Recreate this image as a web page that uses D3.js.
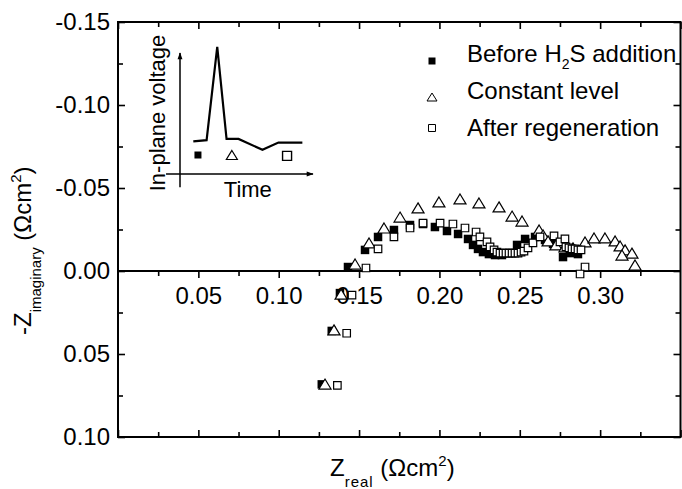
<!DOCTYPE html>
<html>
<head>
<meta charset="utf-8">
<script src="https://cdn.jsdelivr.net/npm/d3@7"></script>
<style>
  body { margin: 0; background: #fff; }
  svg { display: block; font-family: "Liberation Sans", Arial, sans-serif; }
</style>
</head>
<body>
<div id="chart"></div>
<script>
// Z_real values (Ohm cm2) and -Z_imag values as labelled on the y axis
const beforeX = [0.1268, 0.1330, 0.1381, 0.1431, 0.1537, 0.1618, 0.1717, 0.1817, 0.1898, 0.1972,
  0.2047, 0.2116, 0.2178, 0.2209, 0.2240, 0.2271, 0.2308, 0.2346, 0.2389, 0.2433,
  0.2483, 0.2533, 0.2595, 0.2657, 0.2707, 0.2769, 0.2812, 0.2862];
const beforeY = [0.0683, 0.0361, 0.0133, -0.0024, -0.0127, -0.0205, -0.0247, -0.0277, -0.0283, -0.0265,
  -0.0241, -0.0223, -0.0193, -0.0157, -0.0133, -0.0114, -0.0102, -0.0096, -0.0096, -0.0108,
  -0.0157, -0.0193, -0.0205, -0.0187, -0.0163, -0.0084, -0.0108, -0.0102];

const constantX = [0.1288, 0.1344, 0.1388, 0.1475, 0.1562, 0.1655, 0.1755, 0.1867, 0.1997, 0.2128,
  0.2246, 0.2371, 0.2452, 0.2514, 0.2620, 0.2645, 0.2676, 0.2725, 0.2781, 0.2831,
  0.2906, 0.2962, 0.3030, 0.3093, 0.3124, 0.3155, 0.3198, 0.3136, 0.3217];
const constantY = [0.0681, 0.0355, 0.0139, -0.0042, -0.0169, -0.0259, -0.0325, -0.0380, -0.0416, -0.0434,
  -0.0410, -0.0386, -0.0331, -0.0301, -0.0247, -0.0217, -0.0181, -0.0157, -0.0145, -0.0139,
  -0.0175, -0.0199, -0.0199, -0.0181, -0.0151, -0.0127, -0.0108, -0.0096, -0.0036];

const afterX = [0.1365, 0.1423, 0.1456, 0.1543, 0.1618, 0.1717, 0.1817, 0.1898, 0.2004, 0.2084,
  0.2159, 0.2228, 0.2252, 0.2296, 0.2315, 0.2340, 0.2358, 0.2377, 0.2396, 0.2414,
  0.2433, 0.2452, 0.2470, 0.2489, 0.2508, 0.2526, 0.2551, 0.2582, 0.2626, 0.2713,
  0.2750, 0.2781, 0.2787, 0.2806, 0.2825, 0.2844, 0.2862, 0.2881, 0.2906, 0.2875];
const afterY = [0.0689, 0.0375, 0.0145, -0.0018, -0.0133, -0.0205, -0.0259, -0.0289, -0.0289, -0.0283,
  -0.0259, -0.0235, -0.0205, -0.0175, -0.0145, -0.0127, -0.0114, -0.0108, -0.0108, -0.0108,
  -0.0108, -0.0108, -0.0108, -0.0108, -0.0114, -0.0120, -0.0139, -0.0169, -0.0205, -0.0211,
  -0.0175, -0.0193, -0.0145, -0.0139, -0.0133, -0.0133, -0.0127, -0.0127, -0.0024, 0.0018];

const legendLabels = ["Before H2S addition", "Constant level", "After regeneration"];

const xMajor = [0.05, 0.10, 0.15, 0.20, 0.25, 0.30];
const xLabels = ["0.05", "0.10", "0.15", "0.20", "0.25", "0.30"];
const xAllTicks = [0, 0.025, 0.05, 0.075, 0.10, 0.125, 0.15, 0.175, 0.20, 0.225, 0.25, 0.275, 0.30, 0.325, 0.35];
const yMajor = [-0.15, -0.10, -0.05, 0.00, 0.05, 0.10];
const yLabels = ["-0.15", "-0.10", "-0.05", "0.00", "0.05", "0.10"];
const yMinor = [-0.125, -0.075, -0.025, 0.025, 0.075];

// inset sketch (arbitrary units)
const insetT = [10, 20, 28, 35, 44, 62, 74, 92];
const insetV = [27, 28, 105, 29, 29, 20, 26, 26];
const insetMarkT = [13.5, 39, 80.5];
const insetMarkV = [15.7, 15.7, 15];

const W = 682, H = 489;
const svg = d3.select("#chart").append("svg").attr("width", W).attr("height", H);

const x = d3.scaleLinear().domain([0, 0.35]).range([118, 680.5]);
const y = d3.scaleLinear().domain([-0.15, 0.10]).range([22, 437]);

const fontMain = 24;

// triangle path centred on its bounding box
function tri(w, h) {
  return `M0,${-h / 2}L${w / 2},${h / 2}L${-w / 2},${h / 2}Z`;
}
function sq(s) {
  return `M${-s / 2},${-s / 2}h${s}v${s}h${-s}Z`;
}

// frame
svg.append("rect")
  .attr("x", x(0)).attr("y", y(-0.15))
  .attr("width", x(0.35) - x(0)).attr("height", y(0.10) - y(-0.15))
  .attr("fill", "none").attr("stroke", "#000").attr("stroke-width", 2);

function tickStyle(g) {
  g.select(".domain").remove();
  g.selectAll(".tick line").attr("stroke", "#000").attr("stroke-width", 1.6);
  g.selectAll(".tick text").attr("fill", "#000").style("font-size", fontMain + "px")
    .style("font-family", '"Liberation Sans", Arial, sans-serif');
}

const isMajorX = d => xMajor.some(m => Math.abs(m - d) < 1e-9) || d === 0 || Math.abs(d - 0.35) < 1e-9;

// top frame ticks (pointing in)
svg.append("g").attr("transform", `translate(0,${y(-0.15)})`)
  .call(d3.axisBottom(x).tickValues(xAllTicks.filter(isMajorX)).tickSize(7).tickFormat(""))
  .call(tickStyle);
svg.append("g").attr("transform", `translate(0,${y(-0.15)})`)
  .call(d3.axisBottom(x).tickValues(xAllTicks.filter(d => !isMajorX(d))).tickSize(5).tickFormat(""))
  .call(tickStyle);
// bottom frame ticks
svg.append("g").attr("transform", `translate(0,${y(0.10)})`)
  .call(d3.axisTop(x).tickValues(xAllTicks.filter(isMajorX)).tickSize(7).tickFormat(""))
  .call(tickStyle);
svg.append("g").attr("transform", `translate(0,${y(0.10)})`)
  .call(d3.axisTop(x).tickValues(xAllTicks.filter(d => !isMajorX(d))).tickSize(5).tickFormat(""))
  .call(tickStyle);

// left axis: inward ticks + labels
svg.append("g").attr("transform", `translate(${x(0)},0)`)
  .call(d3.axisRight(y).tickValues(yMajor).tickSize(7).tickFormat(""))
  .call(tickStyle);
svg.append("g").attr("transform", `translate(${x(0)},0)`)
  .call(d3.axisRight(y).tickValues(yMinor).tickSize(5).tickFormat(""))
  .call(tickStyle);
svg.append("g").attr("transform", `translate(${x(0)},0)`)
  .call(d3.axisLeft(y).tickValues(yMajor).tickSize(0).tickPadding(8).tickFormat((d, i) => yLabels[i]))
  .call(tickStyle);
// right axis ticks
svg.append("g").attr("transform", `translate(${x(0.35)},0)`)
  .call(d3.axisLeft(y).tickValues(yMajor).tickSize(7).tickFormat(""))
  .call(tickStyle);
svg.append("g").attr("transform", `translate(${x(0.35)},0)`)
  .call(d3.axisLeft(y).tickValues(yMinor).tickSize(5).tickFormat(""))
  .call(tickStyle);

// x axis through zero
svg.append("line")
  .attr("x1", x(0)).attr("x2", x(0.35)).attr("y1", y(0)).attr("y2", y(0))
  .attr("stroke", "#000").attr("stroke-width", 2);
svg.append("g").attr("transform", `translate(0,${y(0)})`)
  .call(d3.axisBottom(x).tickValues(xMajor).tickSize(7).tickPadding(9).tickFormat((d, i) => xLabels[i]))
  .call(tickStyle);
svg.append("g").attr("transform", `translate(0,${y(0)})`)
  .call(d3.axisBottom(x).tickValues(xAllTicks.filter(d => !isMajorX(d))).tickSize(5).tickFormat(""))
  .call(tickStyle);

// data
const before = beforeX.map((v, i) => ({ x: v, y: beforeY[i] }));
const constant = constantX.map((v, i) => ({ x: v, y: constantY[i] }));
const after = afterX.map((v, i) => ({ x: v, y: afterY[i] }));

svg.append("g").selectAll("path").data(before).enter().append("path")
  .attr("d", sq(8.5))
  .attr("transform", d => `translate(${x(d.x)},${y(d.y)})`)
  .attr("fill", "#000");

svg.append("g").selectAll("path").data(constant).enter().append("path")
  .attr("d", tri(12, 10))
  .attr("transform", d => `translate(${x(d.x)},${y(d.y)})`)
  .attr("fill", "#fff").attr("stroke", "#000").attr("stroke-width", 1.2);

svg.append("g").selectAll("path").data(after).enter().append("path")
  .attr("d", sq(7.5))
  .attr("transform", d => `translate(${x(d.x)},${y(d.y)})`)
  .attr("fill", "#fff").attr("stroke", "#000").attr("stroke-width", 1.2);

// legend
const legend = svg.append("g");
const legendRows = [62, 99, 136];
const legendMark = [
  g => g.append("path").attr("d", sq(7)).attr("fill", "#000"),
  g => g.append("path").attr("d", tri(10, 8)).attr("fill", "none").attr("stroke", "#000").attr("stroke-width", 1),
  g => g.append("path").attr("d", sq(7)).attr("fill", "none").attr("stroke", "#000").attr("stroke-width", 1)
];
legendLabels.forEach((lab, i) => {
  const g = legend.append("g").attr("transform", `translate(432,${legendRows[i] - [1, 2, 8][i]})`);
  legendMark[i](g);
  const t = legend.append("text").attr("x", 467).attr("y", legendRows[i])
    .style("font-size", fontMain + "px").attr("fill", "#000");
  if (lab.includes("H2S")) {
    t.append("tspan").text("Before H");
    t.append("tspan").attr("dy", 7).style("font-size", "14px").text("2");
    t.append("tspan").attr("dy", -7).text("S addition");
  } else {
    t.text(lab);
  }
});

// axis titles
const yt = svg.append("text")
  .attr("transform", `translate(31,335) rotate(-90)`)
  .style("font-size", "24px").attr("fill", "#000");
yt.append("tspan").text("-Z");
yt.append("tspan").attr("dy", 10).style("font-size", "15px").text("imaginary");
yt.append("tspan").attr("dy", -10).text(" (\u03A9cm");
yt.append("tspan").attr("dy", -10).style("font-size", "15px").text("2");
yt.append("tspan").attr("dy", 10).text(")");

const xt = svg.append("text")
  .attr("x", 330).attr("y", 476)
  .style("font-size", "24px").attr("fill", "#000");
xt.append("tspan").text("Z");
xt.append("tspan").attr("dy", 11).style("font-size", "15px").style("letter-spacing", "1px").text("real");
xt.append("tspan").attr("dy", -11).text(" (\u03A9cm");
xt.append("tspan").attr("dy", -10).style("font-size", "15px").text("2");
xt.append("tspan").attr("dy", 10).text(")");

// inset sketch
const ix = d3.scaleLinear().domain([0, 100]).range([180, 313]);
const iy = d3.scaleLinear().domain([0, 100]).range([174, 53]);
const inset = svg.append("g");
inset.append("defs").append("marker")
  .attr("id", "arrow").attr("viewBox", "0 0 10 10").attr("refX", 9).attr("refY", 5)
  .attr("markerWidth", 9).attr("markerHeight", 7).attr("markerUnits", "userSpaceOnUse")
  .attr("orient", "auto")
  .append("path").attr("d", "M0,1.5L10,5L0,8.5Z").attr("fill", "#000");
inset.append("line")
  .attr("x1", ix(0)).attr("x2", ix(0)).attr("y1", iy(-11)).attr("y2", iy(100))
  .attr("stroke", "#000").attr("stroke-width", 1.5).attr("marker-end", "url(#arrow)");
inset.append("line")
  .attr("x1", ix(-10.5)).attr("x2", ix(100)).attr("y1", iy(0)).attr("y2", iy(0))
  .attr("stroke", "#000").attr("stroke-width", 1.5).attr("marker-end", "url(#arrow)");
inset.append("path")
  .datum(insetT.map((t, i) => [t, insetV[i]]))
  .attr("d", d3.line().x(d => ix(d[0])).y(d => iy(d[1])))
  .attr("fill", "none").attr("stroke", "#000").attr("stroke-width", 2.2);
insetMarkT.forEach((t, i) => {
  const g = inset.append("g").attr("transform", `translate(${ix(t)},${iy(insetMarkV[i])})`);
  if (i === 0) g.append("path").attr("d", sq(7)).attr("fill", "#000");
  if (i === 1) g.append("path").attr("d", tri(11, 9)).attr("fill", "none").attr("stroke", "#000").attr("stroke-width", 1.2);
  if (i === 2) g.append("path").attr("d", sq(9)).attr("fill", "none").attr("stroke", "#000").attr("stroke-width", 1.4);
});
inset.append("text").attr("x", ix(51)).attr("y", 197).attr("text-anchor", "middle")
  .style("font-size", "22px").attr("fill", "#000").text("Time");
inset.append("text").attr("transform", `translate(165,113) rotate(-90)`).attr("text-anchor", "middle")
  .style("font-size", "22px").attr("fill", "#000").text("In-plane voltage");
</script>
</body>
</html>
